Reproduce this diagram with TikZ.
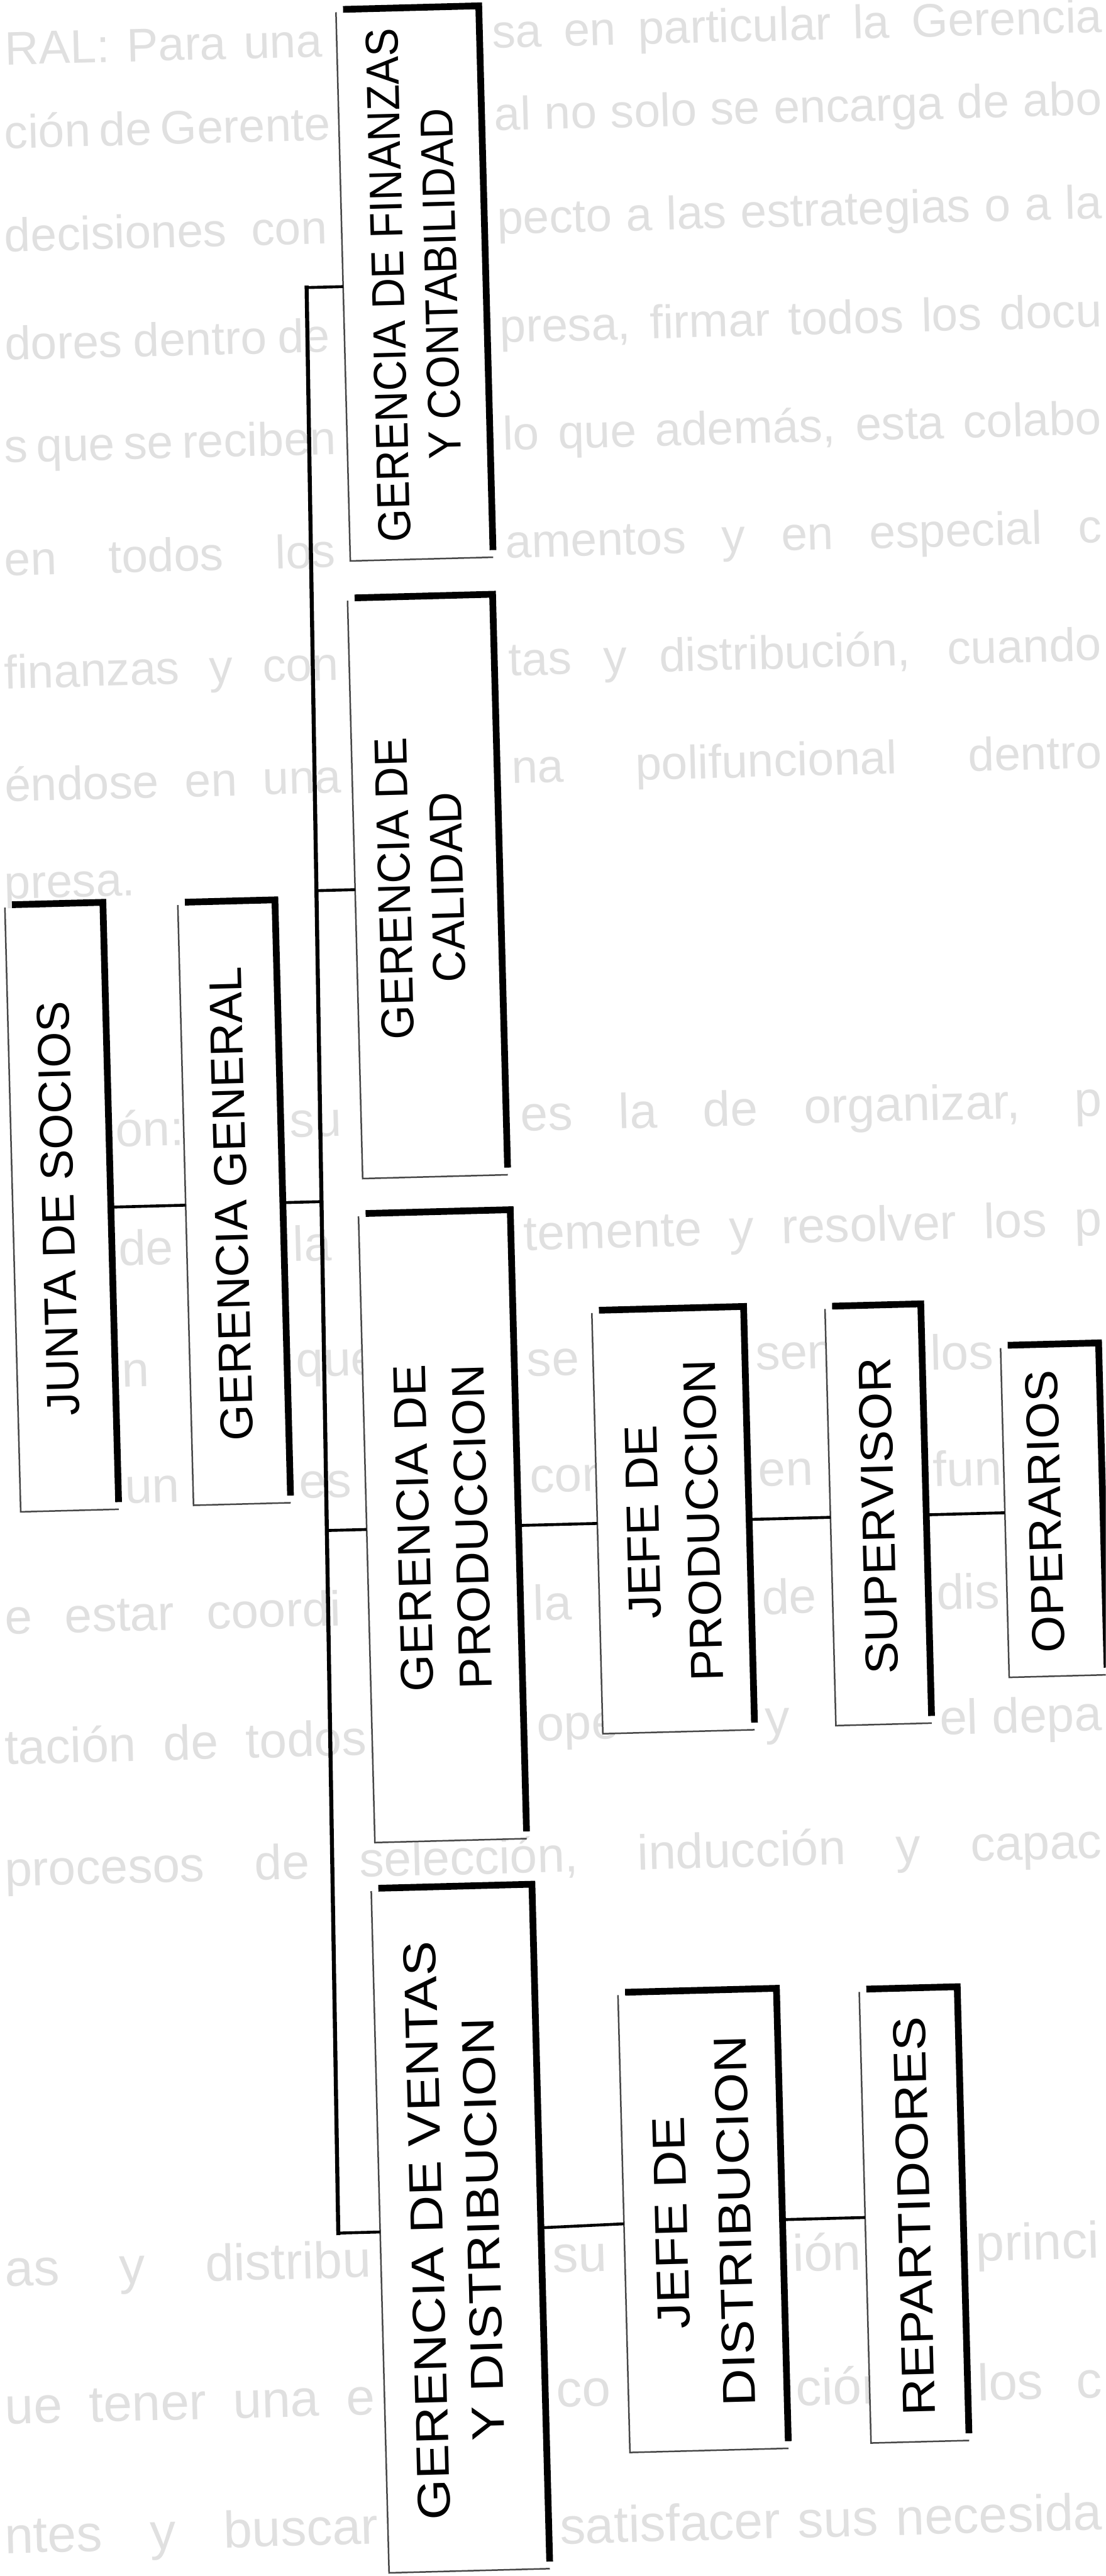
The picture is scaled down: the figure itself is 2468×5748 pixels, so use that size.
\documentclass[tikz,border=0pt]{standalone}
\usepackage{fontspec}
\usepackage{graphicx}
\newfontfamily\orgfont{Liberation Sans}
% horizontal squeeze/stretch of one line of a label
\newcommand{\sx}[2]{\scalebox{#1}[1]{#2}}
% one justified piece of the faint page text: size, name, x, y, width (pt), words
\newcommand{\bgfrag}[6]{\node[bgtext=#1] (#2) at (#3,#4) {\makebox[#5pt][s]{#6}};}
\tikzset{
  orgbox/.style={fill=white, draw=none, inner sep=0pt},
  thinedge/.style={line width=0.35pt, draw=black!72},
  thickedge/.style={line width=1.5pt, line join=miter},
  mainln/.style={line width=0.9pt, line cap=rect},
  conn/.style={line width=0.65pt},
  lbl/.style={rotate=90, align=center, inner sep=0pt,
              font=\orgfont\fontsize{10.3}{#1}\selectfont},
  lbl/.default=12.5,
  bgtext/.style={anchor=west, inner sep=0pt, text=black!12,
                 font=\orgfont\fontsize{#1}{#1}\selectfont},
}
\begin{document}
\begin{tikzpicture}[x=0.1pt, y=-0.1pt]
\fill[white] (0,0) rectangle (2468,5748);
\useasboundingbox (0,0) rectangle (2468,5748);
\clip (0,0) rectangle (2468,5748);

\begin{scope}[rotate around={1.5:(1234,2874)}, transform shape]

% faint running text of the page, in the gaps between the boxes
\bgfrag{10.5}{bg1a}{82}{78}{70.8}{RAL: Para una}
\bgfrag{10.5}{bg1b}{1170}{78}{136.2}{sa en particular la Gerencia}
\bgfrag{10.5}{bg2a}{76}{262}{71.4}{ción de Gerente}
\bgfrag{10.5}{bg2b}{1170}{262}{135.6}{al no solo se encarga de abo}
\bgfrag{10.5}{bg3a}{70}{493}{72}{decisiones con}
\bgfrag{10.5}{bg3b}{1170}{493}{135}{pecto a las estrategias o a la}
\bgfrag{10.5}{bg4a}{64}{735}{72.6}{dores dentro de}
\bgfrag{10.5}{bg4b}{1170}{735}{134.4}{presa, firmar todos los docu}
\bgfrag{10.5}{bg5a}{57}{974}{73.3}{s que se reciben}
\bgfrag{10.5}{bg5b}{1170}{974}{133.7}{lo que además, esta colabo}
\bgfrag{10.5}{bg6a}{51}{1216}{73.9}{en todos los}
\bgfrag{10.5}{bg6b}{1170}{1216}{133.1}{amentos y en especial c}
\bgfrag{10.5}{bg7a}{44}{1478}{74.6}{finanzas y con}
\bgfrag{10.5}{bg7b}{1170}{1478}{132.4}{tas y distribución, cuando}
\bgfrag{10.5}{bg8a}{38}{1719}{75.2}{éndose en una}
\bgfrag{10.5}{bg8b}{1170}{1719}{131.8}{na polifuncional dentro}
\node[bgtext=10.5] (bg9) at (32,1957) {presa.};
\bgfrag{11}{bg10a}{265}{2494}{13.5}{ón:}
\bgfrag{11}{bg10b}{655}{2494}{13.5}{su}
\bgfrag{11}{bg10c}{1170}{2494}{129.8}{es la de organizar, p}
\bgfrag{11}{bg11a}{265}{2760}{13.5}{de}
\bgfrag{11}{bg11b}{655}{2760}{13.5}{la}
\bgfrag{11}{bg11c}{1170}{2760}{129.1}{temente y resolver los p}
\bgfrag{11}{bg12a}{265}{3040}{13.5}{n}
\bgfrag{11}{bg12b}{655}{3040}{13.5}{que}
\bgfrag{11}{bg12c}{1170}{3040}{13.5}{se}
\bgfrag{11}{bg12d}{1680}{3040}{15}{sen}
\bgfrag{11}{bg12e}{2070}{3040}{14.5}{los}
\bgfrag{11}{bg13a}{265}{3300}{13.5}{un}
\bgfrag{11}{bg13b}{655}{3300}{13.5}{es}
\bgfrag{11}{bg13c}{1170}{3300}{13.5}{con}
\bgfrag{11}{bg13d}{1680}{3300}{15}{en}
\bgfrag{11}{bg13e}{2070}{3300}{14.5}{fun}
\bgfrag{11}{bg14a}{-10}{3575}{75}{e estar coordi}
\bgfrag{11}{bg14b}{1170}{3575}{13.5}{la}
\bgfrag{11}{bg14c}{1680}{3575}{15}{de}
\bgfrag{11}{bg14d}{2070}{3575}{14.5}{dis}
\bgfrag{11}{bg15a}{-18}{3865}{80.8}{tación de todos}
\bgfrag{11}{bg15b}{1170}{3865}{13.5}{ope}
\bgfrag{11}{bg15c}{1680}{3865}{15}{y}
\bgfrag{11}{bg15d}{2070}{3865}{36.2}{el depa}
\bgfrag{11}{bg16}{-25}{4148}{245}{procesos de selección, inducción y capac}
\bgfrag{11.5}{bg17a}{-48}{5040}{81.8}{as y distribu}
\bgfrag{11.5}{bg17b}{1175}{5040}{14.5}{su}
\bgfrag{11.5}{bg17c}{1710}{5040}{15}{ión}
\bgfrag{11.5}{bg17d}{2120}{5040}{28.2}{princi}
\bgfrag{11.5}{bg18a}{-56}{5340}{82.6}{ue tener una e}
\bgfrag{11.5}{bg18b}{1175}{5340}{14.5}{co}
\bgfrag{11.5}{bg18c}{1710}{5340}{15}{ción}
\bgfrag{11.5}{bg18d}{2115}{5340}{27.9}{los c}
\bgfrag{11.5}{bg19a}{-64}{5635}{83.4}{ntes y buscar}
\bgfrag{11.5}{bg19b}{1175}{5635}{121.1}{satisfacer sus necesida}

% boxes of the chart
\node[orgbox, minimum width=31.5pt, minimum height=122.1pt] (fin)    at (984,628)   {};
\node[orgbox, minimum width=32pt,   minimum height=128.6pt] (cal)    at (978,1974)  {};
\node[orgbox, minimum width=21.5pt, minimum height=134.5pt] (junta)  at (143,2668)  {};
\node[orgbox, minimum width=21.3pt, minimum height=133.6pt] (gen)    at (528,2668)  {};
\node[orgbox, minimum width=33.5pt, minimum height=139.4pt] (prod)   at (974,3402)  {};
\node[orgbox, minimum width=35.5pt, minimum height=151.8pt] (ventas) at (973,4970)  {};
\node[orgbox, minimum width=33.5pt, minimum height=93.5pt]  (jefep)  at (1489,3402) {};
\node[orgbox, minimum width=21pt,   minimum height=92.6pt]  (sup)    at (1947,3402) {};
\node[orgbox, minimum width=21.5pt, minimum height=73.1pt]  (oper)   at (2339,3402) {};
\node[orgbox, minimum width=35pt,   minimum height=101.7pt] (jefed)  at (1515,4966) {};
\node[orgbox, minimum width=21.5pt, minimum height=100.3pt] (rep)    at (1986,4966) {};

% thin left/bottom sides, heavy top/right sides
\foreach \n in {fin,cal,junta,gen,prod,ventas,jefep,sup,oper,jefed,rep}{
  \draw[thinedge] (\n.north west) -- (\n.south west) -- (\n.south east);
  \draw[thickedge] ([xshift=1.6pt,yshift=0.6pt]\n.north west) -- ([yshift=0.6pt]\n.north east)
                   -- ([yshift=1.6pt]\n.south east);
}

% labels
\node[lbl=11.8] (tfin) at (fin.center) {\sx{0.92}{GERENCIA DE FINANZAS}\\\sx{0.92}{Y CONTABILIDAD}};
\node[lbl=11.8] (tcal) at ([xshift=-1.5pt]cal.center) {\sx{0.95}{GERENCIA DE}\\\sx{0.95}{CALIDAD}};
\node[lbl] (tjunta) at ([xshift=-0.8pt]junta.center) {\sx{1.0}{JUNTA DE SOCIOS}};
\node[lbl] (tgen) at ([xshift=-0.7pt]gen.center) {\sx{1.0}{GERENCIA GENERAL}};
\node[lbl=13] (tprod) at (prod.center) {\sx{1.03}{GERENCIA DE}\\\sx{1.03}{PRODUCCION}};
\node[lbl=12.6] (tventas) at ([xshift=-1.2pt]ventas.center) {\sx{1.13}{GERENCIA DE VENTAS}\\\sx{1.13}{Y DISTRIBUCION}};
\node[lbl=13.4] (tjefep) at (jefep.center) {\sx{1.02}{JEFE DE}\\\sx{1.02}{PRODUCCION}};
\node[lbl] (tsup) at (sup.center) {\sx{1.05}{SUPERVISOR}};
\node[lbl] (toper) at ([xshift=-2pt]oper.center) {\sx{1.03}{OPERARIOS}};
\node[lbl=14.2] (tjefed) at (jefed.center) {\sx{1.12}{JEFE DE}\\\sx{1.12}{DISTRIBUCION}};
\node[lbl] (trep) at (rep.center) {\sx{1.11}{REPARTIDORES}};

% connectors
\coordinate (mtop)  at (743,628);
\coordinate (jcal)  at (729.7,1974);
\coordinate (jgen)  at (722.8,2668);
\coordinate (jprod) at (715.5,3402);
\coordinate (mbot)  at (700,4970);
\draw[mainln] (mtop) -- (mbot);
\draw[conn] (mtop) -- (fin.west);
\draw[conn] (jcal) -- (cal.west);
\draw[conn] (gen.east) -- (jgen);
\draw[conn] (junta.east) -- (gen.west);
\draw[conn] (jprod) -- (prod.west);
\draw[conn] (mbot) -- (ventas.west);
\draw[conn] (prod.east) -- (jefep.west);
\draw[conn] (jefep.east) -- (sup.west);
\draw[conn] (sup.east) -- (oper.west);
\draw[conn] (ventas.east) -- (jefed.west);
\draw[conn] (jefed.east) -- (rep.west);

\end{scope}
\end{tikzpicture}
\end{document}
